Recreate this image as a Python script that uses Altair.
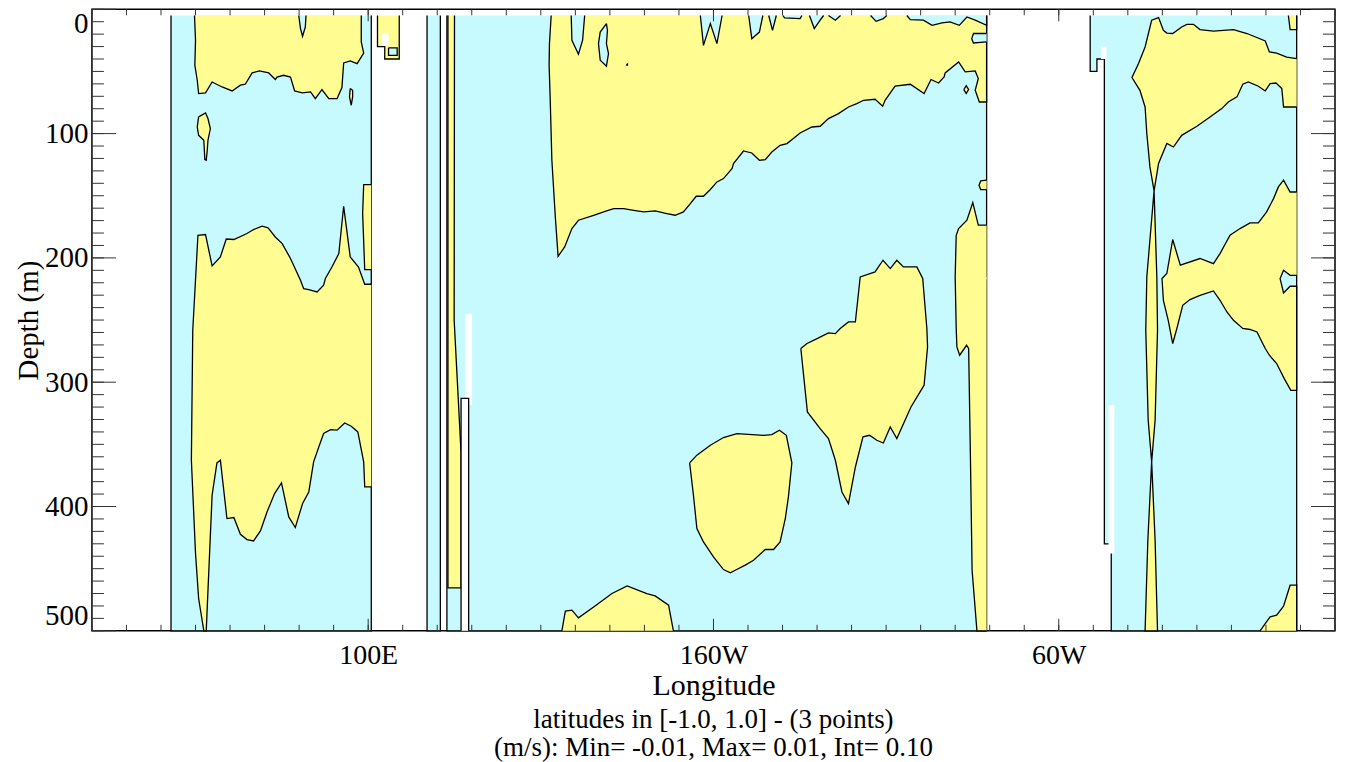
import altair as alt
import pandas as pd

# ---------------- data (longitude in degrees east 20..380, depth in m) -------------
x_domain = [20, 380]
y_domain = [0, 500]
x_tick_values = [100, 200, 300]
x_tick_labels = ["100E", "160W", "60W"]
x_minor_ticks = list(range(20, 381, 10))
y_tick_values = [0, 100, 200, 300, 400, 500]
y_minor_ticks = list(range(0, 501, 10))
x_title = "Longitude"
y_title = "Depth (m)"
subtitle_lines = ["latitudes in [-1.0, 1.0] - (3 points)",
                  "(m/s): Min= -0.01, Max= 0.01, Int= 0.10"]

# ocean columns (cyan background)
ocean_indian = [(42.9, 5), (42.9, 500), (100.9, 500), (100.9, 5)]
ocean_strip = [(117.05, 5), (117.05, 500), (120.9, 500), (120.9, 5)]
ocean_pacific = [(122.8, 5), (122.8, 500), (279.1, 500), (279.1, 5)]
ocean_atlantic = [(309.1, 5), (309.1, 50), (311.05, 50), (311.05, 40), (313.2, 40), (313.2, 430),
                  (315.2, 430), (315.2, 500), (368.9, 500), (368.9, 5)]

# positive (yellow) regions
pos_small_top = [(102.7, 5), (102.7, 30), (104.8, 30), (104.8, 40), (109.0, 40), (109.0, 5)]
pos_indian_upper = [(49.7, 5), (50.0, 24.9), (49.8, 45.0), (50.5, 57.1), (50.9, 67.8), (52.9, 67.3),
                    (54.8, 58.5), (57.7, 62.5), (60.6, 65.7), (63.0, 61.1), (64.4, 60.3), (66.4, 51.2),
                    (68.5, 49.6), (71.2, 51.2), (73.1, 56.5), (73.6, 54.5), (75.5, 53.1), (77.5, 54.5),
                    (78.7, 65.7), (80.9, 67.3), (83.3, 66.5), (84.7, 71.8), (86.6, 64.6), (88.6, 71.8),
                    (91.0, 71.8), (92.4, 63.0), (92.9, 43.2), (94.8, 41.6), (96.8, 43.7), (98.7, 35.2),
                    (98.0, 26.3), (98.0, 5)]
pos_indian_sliver = [(94.8, 63.8), (95.5, 65.2), (95.5, 70.5), (95.1, 77.2), (94.6, 70.5), (94.8, 63.8)]
pos_indian_blob = [(50.9, 86.6), (52.9, 83.4), (53.6, 87.9), (54.3, 96.0), (53.6, 105.4), (53.4, 113.4),
                   (53.1, 121.5), (52.7, 120.9), (52.4, 105.4), (50.9, 101.4), (50.5, 94.7), (50.9, 86.6)]
pos_indian_tongue = [(100.9, 141.0), (98.7, 141.0), (98.4, 164.3), (99.0, 209.4), (100.9, 209.4)]
pos_indian_lower = [(100.9, 221.2), (99.0, 221.2), (97.2, 207.3), (94.8, 199.2), (92.9, 158.5), (91.5, 196.5),
                    (89.5, 207.3), (87.6, 216.6), (87.1, 222.0), (85.2, 227.4), (82.8, 225.5), (81.3, 224.7),
                    (80.4, 218.0), (77.5, 200.5), (75.1, 188.5), (73.1, 183.2), (71.0, 175.9), (69.3, 174.5),
                    (66.8, 177.2), (64.9, 180.4), (61.1, 185.2), (58.9, 184.8), (57.2, 199.2), (54.8, 206.5),
                    (52.9, 181.2), (50.7, 181.8), (49.2, 258.2), (48.8, 362.8), (50.0, 437.8), (50.9, 474.0),
                    (52.4, 500), (53.1, 500), (54.8, 390.9), (56.2, 364.9), (57.2, 362.8), (59.1, 409.7),
                    (61.1, 408.9), (63.0, 422.3), (64.9, 426.6), (66.8, 427.7), (68.8, 419.6), (70.7, 404.4),
                    (72.9, 389.6), (74.9, 381.0), (77.0, 408.4), (78.9, 416.9), (81.0, 397.6), (82.8, 388.3),
                    (84.2, 364.1), (85.7, 352.1), (87.1, 341.3), (89.1, 338.1), (91.0, 338.6), (93.2, 332.8),
                    (95.1, 335.4), (97.0, 340.0), (98.7, 364.1), (99.0, 384.2), (100.9, 384.2)]
pos_pacific_west_strip = [(123.1, 5), (123.1, 465.5), (126.9, 465.5), (126.9, 357), (124.9, 250), (125.0, 5)]
pos_pacific_upper = [(153.0, 5), (152.5, 27.6), (152.4, 45.0), (152.7, 70.5), (153.2, 121.5), (154.2, 167.1),
                     (155.0, 198.7), (156.9, 191.2), (159.0, 176.4), (160.9, 169.7), (165.3, 165.7),
                     (168.2, 163.0), (171.1, 160.3), (174.0, 160.3), (176.9, 161.7), (179.8, 163.0),
                     (183.1, 162.2), (186.5, 164.3), (188.9, 165.7), (191.3, 163.0), (193.3, 156.3),
                     (195.0, 150.4), (197.1, 150.4), (199.1, 145.0), (201.0, 138.9), (202.9, 136.2),
                     (205.4, 128.1), (205.8, 124.1), (208.7, 114.0), (211.1, 115.6), (213.3, 121.5),
                     (215.0, 120.9), (216.9, 114.8), (219.3, 109.4), (221.3, 108.0), (225.1, 99.5),
                     (228.5, 94.7), (230.9, 94.1), (233.3, 87.9), (236.2, 83.9), (239.1, 78.6), (241.5, 75.9),
                     (243.5, 73.2), (246.8, 72.4), (249.0, 78.0), (249.7, 73.2), (252.6, 61.9), (257.0, 60.3),
                     (261.0, 67.8), (263.0, 56.5), (265.2, 59.3), (266.8, 54.5), (267.1, 51.2), (271.0, 42.4),
                     (272.9, 50.4), (275.8, 49.6), (276.7, 55.7), (275.8, 65.2), (277.0, 74.6), (279.1, 74.6),
                     (279.1, 5)]
pos_pacific_diamond = [(272.5, 64.6), (273.2, 61.5), (273.9, 64.6), (273.2, 67.7), (272.5, 64.6)]
pos_pacific_tongue = [(279.1, 137.5), (277.4, 138.1), (276.9, 141.6), (277.4, 145.0), (279.1, 145.0)]
pos_pacific_tiny = [(279.1, 215.3), (277.4, 215.3), (277.4, 217.4), (279.1, 217.4)]
pos_pacific_east_strip = [(279.1, 173.7), (276.7, 173.7), (275.1, 155.5), (273.4, 169.7), (271.0, 176.4),
                          (270.3, 181.8), (270.0, 215.3), (270.3, 256.8), (270.5, 271.6), (271.3, 278.3),
                          (273.3, 270.3), (273.9, 272.9), (274.4, 357.4), (274.9, 451.3), (276.3, 500),
                          (279.1, 500)]
pos_pacific_mid_east = [(225.3, 272.9), (227.1, 268.9), (230.0, 264.9), (233.3, 260.4), (235.3, 260.9),
                        (236.7, 256.8), (239.1, 251.5), (241.1, 251.5), (242.5, 215.3), (246.8, 211.3),
                        (249.1, 201.9), (251.2, 208.6), (253.1, 201.9), (255.0, 207.3), (258.9, 207.3),
                        (260.6, 216.6), (261.8, 256.8), (262.0, 271.6), (261.0, 302.4), (257.2, 319.9),
                        (253.1, 345.3), (251.2, 336.0), (249.2, 348.9), (247.3, 346.7), (245.2, 342.7),
                        (243.3, 344.0), (241.1, 368.2), (239.1, 397.6), (237.2, 388.3), (235.3, 362.8),
                        (233.3, 345.3), (230.9, 337.3), (227.2, 323.9), (225.3, 272.9)]
pos_pacific_mid_west = [(193.1, 364.9), (195.2, 358.7), (199.1, 350.7), (202.9, 344.5), (206.8, 341.3),
                        (214.5, 342.7), (216.9, 342.1), (219.1, 338.6), (221.1, 342.7), (222.7, 364.9),
                        (221.7, 392.3), (220.8, 409.7), (219.3, 428.5), (217.4, 434.6), (215.0, 434.6),
                        (211.6, 443.2), (209.2, 447.2), (206.3, 451.3), (204.9, 453.4), (202.9, 450.7),
                        (200.0, 440.6), (197.1, 428.5), (195.2, 417.7), (194.2, 390.9), (193.1, 364.9)]
pos_pacific_bottom = [(156.1, 500), (157.1, 484.2), (159.0, 483.4), (160.9, 489.6), (165.3, 480.8),
                      (170.6, 470.0), (175.0, 463.9), (180.7, 470.0), (183.1, 471.9), (187.0, 479.4),
                      (188.4, 500)]
pos_atl_corner = [(366.5, 5), (367.0, 16.3), (368.9, 16.3), (368.9, 5)]
pos_atl_upper = [(368.9, 39.7), (366.0, 38.4), (363.1, 35.2), (361.0, 34.3), (359.8, 25.5), (354.5, 19.5),
                 (350.6, 16.3), (344.8, 17.5), (340.9, 16.3), (339.0, 12.1), (337.1, 12.1), (335.6, 14.2),
                 (333.0, 19.5), (331.3, 19.1), (330.3, 16.9), (328.9, 6.7), (326.9, 8.8), (325.0, 30.3),
                 (323.1, 43.7), (321.2, 54.9), (323.5, 65.2), (325.0, 78.6), (325.5, 100.0), (326.4, 126.8),
                 (327.6, 146.0), (328.9, 124.1), (331.3, 108.0), (333.2, 110.8), (335.6, 101.4), (340.0, 94.1),
                 (343.8, 86.6), (347.2, 79.9), (349.1, 74.6), (351.6, 70.5), (353.3, 60.3), (354.9, 58.5),
                 (357.8, 61.9), (359.8, 65.7), (361.2, 59.8), (362.9, 59.3), (364.6, 63.8), (365.1, 78.6),
                 (368.9, 78.6)]
pos_atl_lens1 = [(327.6, 146.0), (328.4, 215.3), (328.6, 258.2), (327.9, 330.6), (326.9, 364.1),
                 (325.9, 330.6), (325.2, 258.2), (325.5, 215.3), (327.6, 146.0)]
pos_atl_lens2 = [(326.9, 364.1), (327.9, 427.1), (328.6, 500), (325.0, 500), (325.8, 427.1), (326.9, 364.1)]
pos_atl_mid = [(368.9, 147.0), (367.0, 147.0), (365.1, 137.5), (363.6, 142.9), (362.2, 152.3), (360.2, 163.0),
               (357.8, 171.9), (355.4, 171.9), (352.5, 176.4), (349.6, 181.8), (346.7, 196.5), (344.8, 204.6),
               (340.9, 200.5), (335.2, 205.9), (333.0, 185.2), (331.3, 212.6), (329.9, 216.6), (330.3, 234.1),
               (331.7, 250.2), (333.0, 268.9), (334.2, 256.8), (335.9, 238.1), (338.0, 233.5), (340.9, 230.1),
               (344.8, 226.6), (346.7, 234.1), (348.7, 243.5), (350.6, 250.2), (353.3, 256.8), (355.4, 257.6),
               (357.4, 259.6), (359.8, 272.9), (361.0, 278.3), (363.1, 285.0), (365.3, 297.1), (367.2, 306.5),
               (368.9, 306.5), (368.9, 222.8), (367.0, 222.8), (365.1, 228.2), (364.1, 216.6), (365.1, 209.9),
               (367.0, 214.0), (368.9, 214.0)]
pos_atl_bottom = [(358.3, 500), (361.2, 488.8), (363.1, 487.4), (365.1, 480.2), (367.0, 463.3),
                  (368.9, 463.3), (368.9, 500)]

# negative (cyan) pockets inside yellow regions
neg_indian_notch = [(79.9, 5), (80.4, 15.5), (81.0, 21.7), (81.8, 14.2), (82.0, 5)]
neg_small_top = [(105.9, 31), (105.9, 37), (108.4, 37), (108.4, 31), (105.9, 31)]
neg_pac_1 = [(158.8, 5), (159.0, 24.9), (160.9, 36.2), (162.1, 24.9), (162.7, 5)]
neg_pac_island = [(169.0, 11.5), (167.2, 18.3), (166.7, 27.6), (167.2, 41.0), (169.0, 45.8), (169.6, 35.6),
                  (169.0, 27.6), (169.3, 16.9), (169.0, 11.5)]
neg_pac_dot = [(174.9, 44.0), (175.1, 44.0), (175.1, 45.0), (174.9, 45.0), (174.9, 44.0)]
neg_pac_2 = [(196.2, 5), (197.1, 29.0), (199.1, 11.5), (201.0, 27.6), (202.5, 5)]
neg_pac_3 = [(210.2, 5), (211.1, 23.6), (213.3, 18.3), (214.3, 5)]
neg_pac_4 = [(216.0, 5), (217.1, 16.9), (218.2, 5)]
neg_pac_5 = [(220.1, 5), (220.6, 7.0), (225.1, 7.5), (225.6, 5)]
neg_pac_6 = [(227.8, 5), (229.2, 15.5), (230.9, 8.8), (231.9, 5)]
neg_pac_7 = [(233.3, 5), (235.3, 8.8), (236.8, 5)]
neg_pac_8 = [(245.5, 5), (247.1, 9.7), (249.2, 7.5), (250.2, 5)]
neg_pac_9 = [(256.0, 5), (257.0, 8.3), (260.8, 8.8), (263.3, 12.9), (266.2, 11.0), (268.5, 10.2),
             (271.2, 12.9), (273.4, 6.2), (275.8, 8.8), (279.1, 12.9), (279.1, 5)]
neg_pac_tongue = [(279.1, 19.5), (275.3, 19.5), (274.8, 23.6), (275.3, 27.1), (279.1, 26.3)]

# masked (white) cells
white_plain = [
    [(104.0, 19), (104.0, 29), (105.9, 29), (105.9, 19), (104.0, 19)],
    [(128.1, 245), (128.1, 318), (130.1, 318), (130.1, 245), (128.1, 245)],
    [(312.2, 30), (312.2, 40), (313.8, 40), (313.8, 30), (312.2, 30)],
    [(314.4, 318.5), (314.4, 437.8), (316.1, 437.8), (316.1, 318.5), (314.4, 318.5)],
]
white_outlined = [[(126.9, 500), (126.9, 313), (129.1, 313), (129.1, 500)]]

ocean_polys = [ocean_indian, ocean_strip, ocean_pacific, ocean_atlantic]
pos_polys = [pos_small_top, pos_indian_upper, pos_indian_sliver, pos_indian_blob, pos_indian_tongue,
             pos_indian_lower, pos_pacific_west_strip, pos_pacific_upper, pos_pacific_diamond,
             pos_pacific_tongue, pos_pacific_tiny, pos_pacific_east_strip, pos_pacific_mid_east,
             pos_pacific_mid_west, pos_pacific_bottom, pos_atl_corner, pos_atl_upper, pos_atl_lens1,
             pos_atl_lens2, pos_atl_mid, pos_atl_bottom]
neg_polys = [neg_indian_notch, neg_small_top, neg_pac_1, neg_pac_island, neg_pac_dot, neg_pac_2, neg_pac_3,
             neg_pac_4, neg_pac_5, neg_pac_6, neg_pac_7, neg_pac_8, neg_pac_9, neg_pac_tongue]

# ---------------- styling -------------
CYAN = "#C6FAFF"
YELLOW = "#FFFC91"
FONT = "Liberation Serif"
W, H = 1244, 622

label_expr = " : ".join(
    [f"datum.value == {v} ? '{t}'" for v, t in zip(x_tick_values, x_tick_labels)]) + " : ''"

xscale = alt.Scale(domain=x_domain, zero=False, nice=False)
yscale = alt.Scale(domain=y_domain, zero=False, nice=False, reverse=True)
xaxis = alt.Axis(values=x_tick_values, labelExpr=label_expr, ticks=False, domain=False, grid=False,
                 title=x_title, labelPadding=11, titlePadding=1, labelFontSize=28, titleFontSize=30)
yaxis = alt.Axis(values=y_tick_values, ticks=False, domain=False, grid=False, labelFlush=True,
                 title=y_title, labelPadding=4, titlePadding=1, labelFontSize=29, titleFontSize=29)


def X():
    return alt.X("lon:Q", scale=xscale, axis=xaxis)


def Y():
    return alt.Y("depth:Q", scale=yscale, axis=yaxis)


def frame(polys):
    rows = []
    for pid, pts in enumerate(polys):
        for i, (lo, de) in enumerate(pts):
            rows.append({"poly": pid, "i": i, "lon": lo, "depth": de})
    return pd.DataFrame(rows)


def poly_layer(polys, fill, stroke=True):
    if stroke:
        m = alt.Chart(frame(polys)).mark_line(fill=fill, stroke="black", strokeWidth=1.3)
    else:
        m = alt.Chart(frame(polys)).mark_line(fill=fill, stroke=fill, strokeOpacity=0)
    return m.encode(x=X(), y=Y(), detail="poly:N", order="i:Q")


layers = [
    poly_layer(ocean_polys, CYAN),
    poly_layer(pos_polys, YELLOW),
    poly_layer(neg_polys, CYAN),
    poly_layer(white_plain, "white", stroke=False),
    poly_layer(white_outlined, "white"),
]

tick_color = "#333333"
xmin_df = pd.DataFrame({"lon": x_minor_ticks})
xmaj_df = pd.DataFrame({"lon": x_tick_values})
ymin_df = pd.DataFrame({"depth": y_minor_ticks})
ymaj_df = pd.DataFrame({"depth": y_tick_values})

for df, ln in [(xmin_df, 6), (xmaj_df, 12)]:
    layers.append(alt.Chart(df).mark_rule(color=tick_color, strokeWidth=1).encode(
        x=X(), y=alt.value(H), y2=alt.value(H - ln)))
    layers.append(alt.Chart(df).mark_rule(color=tick_color, strokeWidth=1).encode(
        x=X(), y=alt.value(0), y2=alt.value(ln)))
for df, ln in [(ymin_df, 12), (ymaj_df, 24)]:
    layers.append(alt.Chart(df).mark_rule(color=tick_color, strokeWidth=1).encode(
        y=Y(), x=alt.value(0), x2=alt.value(ln)))
    layers.append(alt.Chart(df).mark_rule(color=tick_color, strokeWidth=1).encode(
        y=Y(), x=alt.value(W), x2=alt.value(W - ln)))

# the two caption lines below the x-axis title
for k, line in enumerate(subtitle_lines):
    layers.append(alt.Chart(pd.DataFrame({"t": [line]})).mark_text(
        font=FONT, fontSize=27, color="black", baseline="alphabetic", align="center").encode(
        text="t:N", x=alt.value(W / 2), y=alt.value(H + 97 + 28 * k)))

chart = alt.layer(*layers).properties(
    width=W, height=H,
    autosize=alt.AutoSizeParams(type="none"),
    padding={"left": 84, "top": 1, "right": 4, "bottom": 131},
).configure_view(stroke="black", strokeWidth=1.5).configure_axis(
    labelFont=FONT, labelColor="black",
    titleFont=FONT, titleColor="black", titleFontWeight="normal",
)

chart.save("out.html", embed_options={"renderer": "svg", "actions": False})
